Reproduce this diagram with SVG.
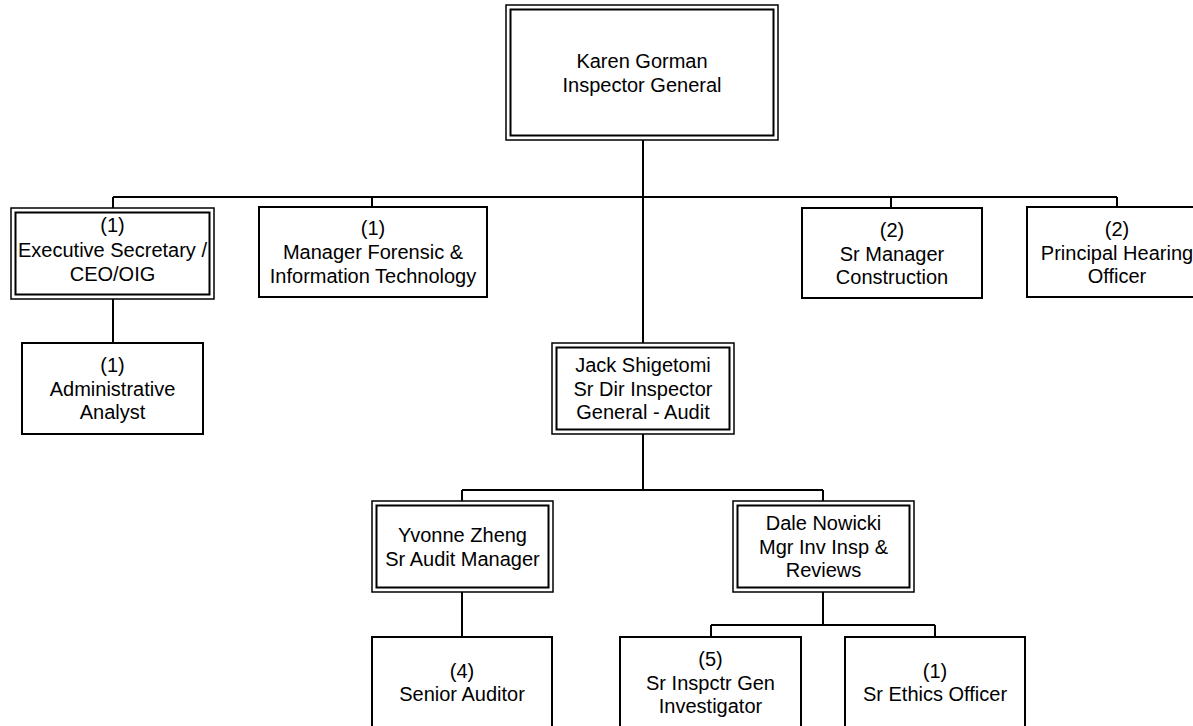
<svg xmlns="http://www.w3.org/2000/svg" width="1193" height="726" viewBox="0 0 1193 726">
<style>
.bg{fill:#ffffff}
.box{fill:#ffffff;stroke:#000000;stroke-width:2}
.outer{fill:#ffffff;stroke:#000000;stroke-width:1.5}
.inner{fill:none;stroke:#000000;stroke-width:2}
.conn{fill:none;stroke:#000000;stroke-width:2}
text{font-family:"Liberation Sans",Arial,sans-serif;font-size:20px;fill:#000000;text-anchor:middle}
</style>
<rect class="bg" x="0" y="0" width="1193" height="726"/>
<g id="connectors">
<path class="conn" d="M643,140 V343"/>
<path class="conn" d="M113,197 H1117"/>
<path class="conn" d="M113,197 V208"/>
<path class="conn" d="M372,197 V207"/>
<path class="conn" d="M891,197 V208"/>
<path class="conn" d="M1117,197 V207"/>
<path class="conn" d="M113,299 V343"/>
<path class="conn" d="M643,434 V490"/>
<path class="conn" d="M462,490 H823"/>
<path class="conn" d="M462,490 V501"/>
<path class="conn" d="M823,490 V501"/>
<path class="conn" d="M462,592 V637"/>
<path class="conn" d="M823,592 V625"/>
<path class="conn" d="M711,625 H935"/>
<path class="conn" d="M711,625 V637"/>
<path class="conn" d="M935,625 V637"/>
</g>
<g id="karen">
<rect class="outer" x="506" y="5" width="272" height="135"/>
<rect class="inner" x="510.5" y="9.5" width="263" height="126"/>
<text x="642" y="67.5">Karen Gorman</text>
<text x="642" y="91.5">Inspector General</text>
</g>
<g id="exec-secretary">
<rect class="outer" x="11" y="208" width="203" height="91"/>
<rect class="inner" x="15.5" y="212.5" width="194" height="82"/>
<text x="112.5" y="232">(1)</text>
<text x="112.5" y="256.5">Executive Secretary /</text>
<text x="112.5" y="281">CEO/OIG</text>
</g>
<g id="mgr-forensic">
<rect class="box" x="259" y="207" width="228" height="90"/>
<text x="373" y="235">(1)</text>
<text x="373" y="259">Manager Forensic &amp;</text>
<text x="373" y="282.5">Information Technology</text>
</g>
<g id="sr-mgr-construction">
<rect class="box" x="802" y="208" width="180" height="90"/>
<text x="892" y="237">(2)</text>
<text x="892" y="260.5">Sr Manager</text>
<text x="892" y="284">Construction</text>
</g>
<g id="principal-hearing">
<rect class="box" x="1027" y="207" width="180" height="90"/>
<text x="1117" y="236">(2)</text>
<text x="1117" y="259.5">Principal Hearing</text>
<text x="1117" y="283">Officer</text>
</g>
<g id="admin-analyst">
<rect class="box" x="22" y="343" width="181" height="91"/>
<text x="112.5" y="372">(1)</text>
<text x="112.5" y="395.5">Administrative</text>
<text x="112.5" y="419">Analyst</text>
</g>
<g id="jack">
<rect class="outer" x="552" y="343" width="182" height="91"/>
<rect class="inner" x="556.5" y="347.5" width="173" height="82"/>
<text x="643" y="372">Jack Shigetomi</text>
<text x="643" y="395.5">Sr Dir Inspector</text>
<text x="643" y="419">General - Audit</text>
</g>
<g id="yvonne">
<rect class="outer" x="372" y="501" width="181" height="91"/>
<rect class="inner" x="376.5" y="505.5" width="172" height="82"/>
<text x="462.5" y="542">Yvonne Zheng</text>
<text x="462.5" y="565.5">Sr Audit Manager</text>
</g>
<g id="dale">
<rect class="outer" x="733" y="501" width="181" height="91"/>
<rect class="inner" x="737.5" y="505.5" width="172" height="82"/>
<text x="823.5" y="530">Dale Nowicki</text>
<text x="823.5" y="553.5">Mgr Inv Insp &amp;</text>
<text x="823.5" y="577">Reviews</text>
</g>
<g id="senior-auditor">
<rect class="box" x="372" y="637" width="180" height="95"/>
<text x="462" y="677.5">(4)</text>
<text x="462" y="701">Senior Auditor</text>
</g>
<g id="sr-inspctr-gen">
<rect class="box" x="620" y="637" width="181" height="95"/>
<text x="710.5" y="666">(5)</text>
<text x="710.5" y="689.5">Sr Inspctr Gen</text>
<text x="710.5" y="713">Investigator</text>
</g>
<g id="sr-ethics">
<rect class="box" x="845" y="637" width="180" height="95"/>
<text x="935" y="677.5">(1)</text>
<text x="935" y="701">Sr Ethics Officer</text>
</g>
</svg>
